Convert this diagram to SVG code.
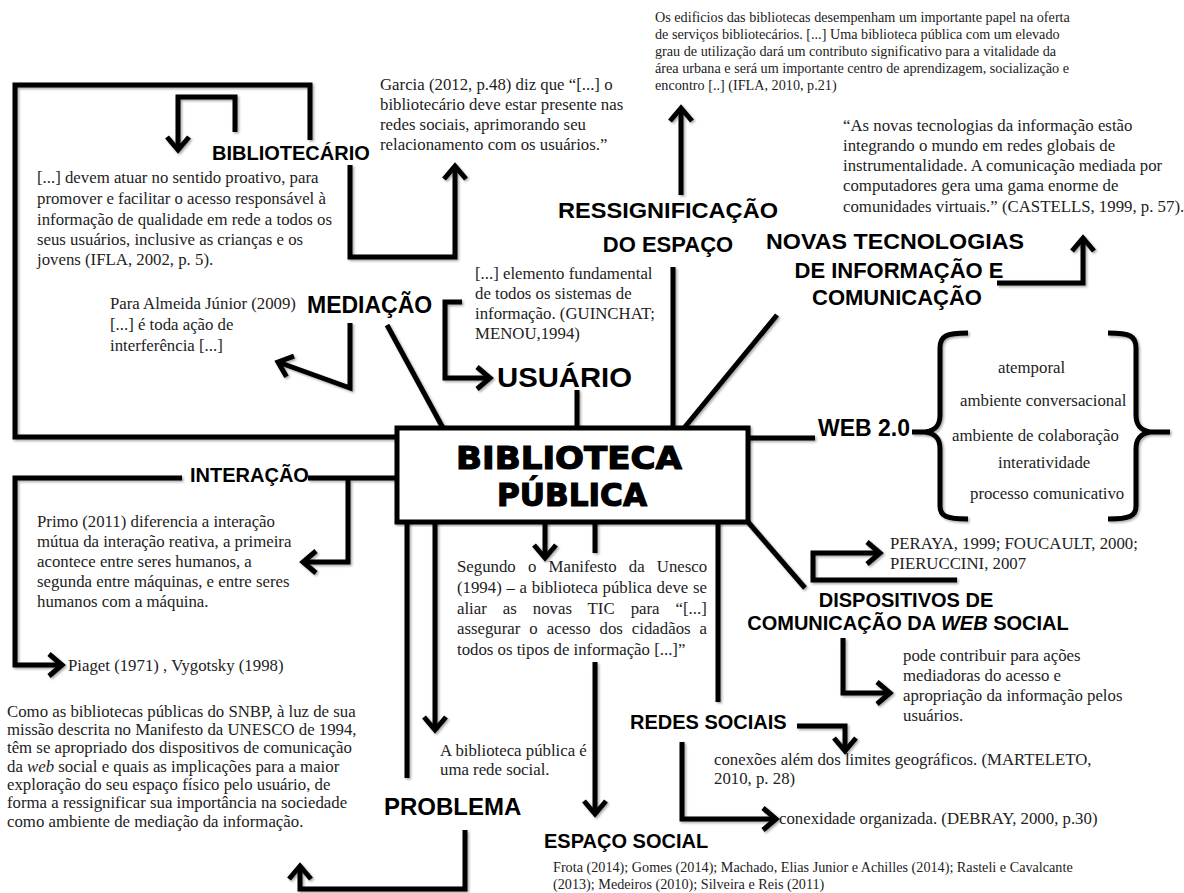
<svg xmlns="http://www.w3.org/2000/svg" width="1184" height="893" viewBox="0 0 1184 893">
<style>
.h{font-family:"Liberation Sans",Arial,sans-serif;font-weight:bold;fill:#000}
.p{font-family:"Liberation Serif","Times New Roman",serif;font-size:16.8px;fill:#222}
.s{font-size:14.2px}
.ln{fill:none;stroke:#000;stroke-width:5;stroke-linejoin:miter}
.ar{marker-end:url(#ah)}
.big{font-family:"DejaVu Sans","Liberation Sans",sans-serif;font-weight:bold;font-size:32px;fill:#000;stroke:#000;stroke-width:1.2}
</style>
<defs>
<marker id="ah" viewBox="-18 -14 22 28" refX="0" refY="0" markerWidth="22" markerHeight="28" markerUnits="userSpaceOnUse" orient="auto" overflow="visible">
<path d="M-13,-11 L0,0 L-13,11" fill="none" stroke="#000" stroke-width="5"/>
</marker>
<filter id="sh" x="-5%" y="-5%" width="110%" height="110%">
<feDropShadow dx="1.5" dy="1.5" stdDeviation="1.2" flood-color="#000" flood-opacity="0.35"/>
</filter>
</defs>
<rect width="1184" height="893" fill="#fff"/>

<g id="connectors" filter="url(#sh)">
<path class="ln" d="M310,140 V85 H15 V437 H397"/>
<path class="ln ar" d="M235,132 V97 H178 V150"/>
<path class="ln ar" d="M350,165 V257 H455 V166"/>
<path class="ln ar" d="M681,195 V108"/>
<path class="ln" d="M673,267 V428"/>
<path class="ln" d="M777,315 L684,428"/>
<path class="ln ar" d="M997,283 H1083 V238"/>
<path class="ln" d="M387,325 L443,428"/>
<path class="ln ar" d="M350,323 V388 L278,362"/>
<path class="ln ar" d="M462,302 H445 V378 H490"/>
<path class="ln" d="M577,390 V428"/>
<path class="ln" d="M748,438 H815"/>
<path class="ln" d="M912,432 H927"/>
<path class="ln ar" d="M182,478 H15 V665 H62"/>
<path class="ln" d="M308,478 H397"/>
<path class="ln ar" d="M348,478 V562 H303"/>
<path class="ln" d="M407,522 V778"/>
<path class="ln ar" d="M435,522 V730"/>
<path class="ln ar" d="M545,522 V558"/>
<path class="ln" d="M595,522 V553"/>
<path class="ln ar" d="M595,662 V814"/>
<path class="ln" d="M718,522 V702"/>
<path class="ln" d="M748,522 L805,588"/>
<path class="ln ar" d="M957,580 H813 V553 H880"/>
<path class="ln ar" d="M843,638 V693 H890"/>
<path class="ln ar" d="M797,726 H845 V751"/>
<path class="ln ar" d="M682,742 V819 H776"/>
<path class="ln ar" d="M465,830 V889 H300 V866"/>
</g>

<g id="biblioteca-publica">
<rect x="397" y="428" width="351" height="94" fill="#fff" stroke="#000" stroke-width="5" filter="url(#sh)"/>
<text class="big" x="569" y="469" text-anchor="middle" textLength="226" lengthAdjust="spacingAndGlyphs">BIBLIOTECA</text>
<text class="big" x="572" y="506" text-anchor="middle" textLength="150" lengthAdjust="spacingAndGlyphs">PÚBLICA</text>
</g>

<g id="bibliotecario">
<text class="h" x="212" y="160" font-size="20">BIBLIOTECÁRIO</text>
<text class="p" x="37" y="183">[...] devem atuar no sentido proativo, para</text>
<text class="p" x="37" y="204">promover e facilitar  o acesso responsável à</text>
<text class="p" x="37" y="225">informação  de qualidade em rede a todos os</text>
<text class="p" x="37" y="245">seus usuários, inclusive as crianças e os</text>
<text class="p" x="37" y="265">jovens (IFLA, 2002, p. 5).</text>
</g>

<g id="garcia">
<text class="p" x="380" y="90">Garcia (2012, p.48) diz que “[...] o</text>
<text class="p" x="380" y="110">bibliotecário deve estar presente nas</text>
<text class="p" x="380" y="130">redes sociais, aprimorando seu</text>
<text class="p" x="380" y="150">relacionamento com os usuários.”</text>
</g>

<g id="ifla-espaco">
<text class="p s" x="655" y="22">Os edificios das bibliotecas desempenham um importante papel na oferta</text>
<text class="p s" x="655" y="39">de serviços bibliotecários. [...] Uma biblioteca pública com um elevado</text>
<text class="p s" x="655" y="56">grau de utilização dará um contributo significativo para a vitalidade da</text>
<text class="p s" x="655" y="73">área urbana e será um importante centro de aprendizagem, socialização e</text>
<text class="p s" x="655" y="90">encontro [..] (IFLA, 2010, p.21)</text>
</g>

<g id="ressignificacao">
<text class="h" x="668" y="218" font-size="22" text-anchor="middle" textLength="220" lengthAdjust="spacingAndGlyphs">RESSIGNIFICAÇÃO</text>
<text class="h" x="668" y="252" font-size="22" text-anchor="middle">DO ESPAÇO</text>
</g>

<g id="castells">
<text class="p" x="843" y="131">“As novas tecnologias da informação  estão</text>
<text class="p" x="843" y="151">integrando o mundo em redes globais de</text>
<text class="p" x="843" y="171">instrumentalidade. A comunicação mediada por</text>
<text class="p" x="843" y="191">computadores gera uma gama enorme de</text>
<text class="p" x="843" y="212">comunidades virtuais.” (CASTELLS,  1999,  p. 57).</text>
</g>

<g id="novas-tecnologias">
<text class="h" x="895" y="249" font-size="22" text-anchor="middle" textLength="258" lengthAdjust="spacingAndGlyphs">NOVAS TECNOLOGIAS</text>
<text class="h" x="899" y="278" font-size="22" text-anchor="middle">DE INFORMAÇÃO E</text>
<text class="h" x="897" y="305" font-size="22" text-anchor="middle">COMUNICAÇÃO</text>
</g>

<g id="mediacao">
<text class="h" x="307" y="313" font-size="23">MEDIAÇÃO</text>
<text class="p" x="110" y="309">Para Almeida Júnior (2009)</text>
<text class="p" x="110" y="330">[...] é toda ação de</text>
<text class="p" x="110" y="351">interferência [...]</text>
</g>

<g id="usuario">
<text class="p" x="475" y="279">[...] elemento fundamental</text>
<text class="p" x="475" y="299">de todos os sistemas de</text>
<text class="p" x="475" y="319">informação. (GUINCHAT;</text>
<text class="p" x="475" y="339">MENOU,1994)</text>
<text class="h" x="497" y="387" font-size="28" textLength="135" lengthAdjust="spacingAndGlyphs">USUÁRIO</text>
</g>

<g id="web20">
<text class="h" x="818" y="436" font-size="23">WEB 2.0</text>
<path class="ln" filter="url(#sh)" d="M968,333 C946,333 940,336 940,348 V415 C940,425 936,430 926,432 C936,434 940,439 940,449 V506 C940,516 946,519 968,519"/>
<path class="ln" filter="url(#sh)" d="M1108,333 C1130,333 1136,336 1136,348 V415 C1136,425 1140,430 1150,432 C1140,434 1136,439 1136,449 V506 C1136,516 1130,519 1108,519 M1150,432 H1170"/>
<text class="p" x="998" y="373">atemporal</text>
<text class="p" x="960" y="406">ambiente conversacional</text>
<text class="p" x="952" y="441">ambiente de colaboração</text>
<text class="p" x="998" y="468">interatividade</text>
<text class="p" x="970" y="499">processo comunicativo</text>
</g>

<g id="interacao">
<text class="h" x="190" y="482" font-size="20">INTERAÇÃO</text>
<text class="p" x="37" y="527">Primo  (2011)  diferencia a interação</text>
<text class="p" x="37" y="547">mútua da interação reativa, a primeira</text>
<text class="p" x="37" y="567">acontece entre seres humanos, a</text>
<text class="p" x="37" y="587">segunda entre máquinas, e entre seres</text>
<text class="p" x="37" y="607">humanos com  a máquina.</text>
<text class="p" x="68" y="671">Piaget (1971)  , Vygotsky (1998)</text>
</g>

<g id="manifesto">
<text class="p" x="457" y="572" word-spacing="8">Segundo o Manifesto da Unesco</text>
<text class="p" x="457" y="593" word-spacing="0.5">(1994) – a biblioteca pública deve se</text>
<text class="p" x="457" y="614" word-spacing="11.8">aliar as novas TIC para “[...]</text>
<text class="p" x="457" y="634" word-spacing="4.8">assegurar o acesso dos cidadãos a</text>
<text class="p" x="457" y="655">todos os tipos de informação  [...]”</text>
</g>

<g id="dispositivos">
<text class="p" x="890" y="549">PERAYA,  1999;  FOUCAULT,  2000;</text>
<text class="p" x="890" y="569">PIERUCCINI,  2007</text>
<text class="h" x="906" y="607" font-size="20" text-anchor="middle">DISPOSITIVOS DE</text>
<text class="h" x="908" y="630" font-size="20" text-anchor="middle">COMUNICAÇÃO DA <tspan font-style="italic">WEB</tspan> SOCIAL</text>
<text class="p" x="903" y="661">pode contribuir para ações</text>
<text class="p" x="903" y="681">mediadoras  do acesso e</text>
<text class="p" x="903" y="701">apropriação  da informação  pelos</text>
<text class="p" x="903" y="721">usuários.</text>
</g>

<g id="redes-sociais">
<text class="h" x="630" y="729" font-size="20">REDES SOCIAIS</text>
<text class="p" x="714" y="765">conexões além  dos limites  geográficos. (MARTELETO,</text>
<text class="p" x="714" y="784">2010,  p. 28)</text>
<text class="p" x="779" y="824">conexidade  organizada.  (DEBRAY,  2000,  p.30)</text>
</g>

<g id="rede-social">
<text class="p" x="440" y="756">A biblioteca pública é</text>
<text class="p" x="440" y="775">uma rede social.</text>
</g>

<g id="problema">
<text class="h" x="384" y="815" font-size="24">PROBLEMA</text>
<text class="p" x="7" y="717" font-size="17">Como as bibliotecas públicas do SNBP, à luz de sua</text>
<text class="p" x="7" y="735" font-size="17">missão descrita no Manifesto da UNESCO  de 1994,</text>
<text class="p" x="7" y="753" font-size="17">têm se apropriado dos dispositivos  de comunicação</text>
<text class="p" x="7" y="772" font-size="17">da <tspan font-style="italic">web</tspan> social e quais as implicações  para  a maior</text>
<text class="p" x="7" y="790" font-size="17">exploração  do seu espaço físico pelo usuário, de</text>
<text class="p" x="7" y="808" font-size="17">forma a ressignificar  sua importância na sociedade</text>
<text class="p" x="7" y="827" font-size="17">como ambiente de mediação da informação.</text>
</g>

<g id="espaco-social">
<text class="h" x="544" y="848" font-size="20">ESPAÇO SOCIAL</text>
<text class="p s" x="553" y="872">Frota (2014);  Gomes (2014); Machado, Elias Junior e Achilles  (2014); Rasteli e Cavalcante</text>
<text class="p s" x="553" y="889">(2013); Medeiros (2010); Silveira  e Reis (2011)</text>
</g>
</svg>
